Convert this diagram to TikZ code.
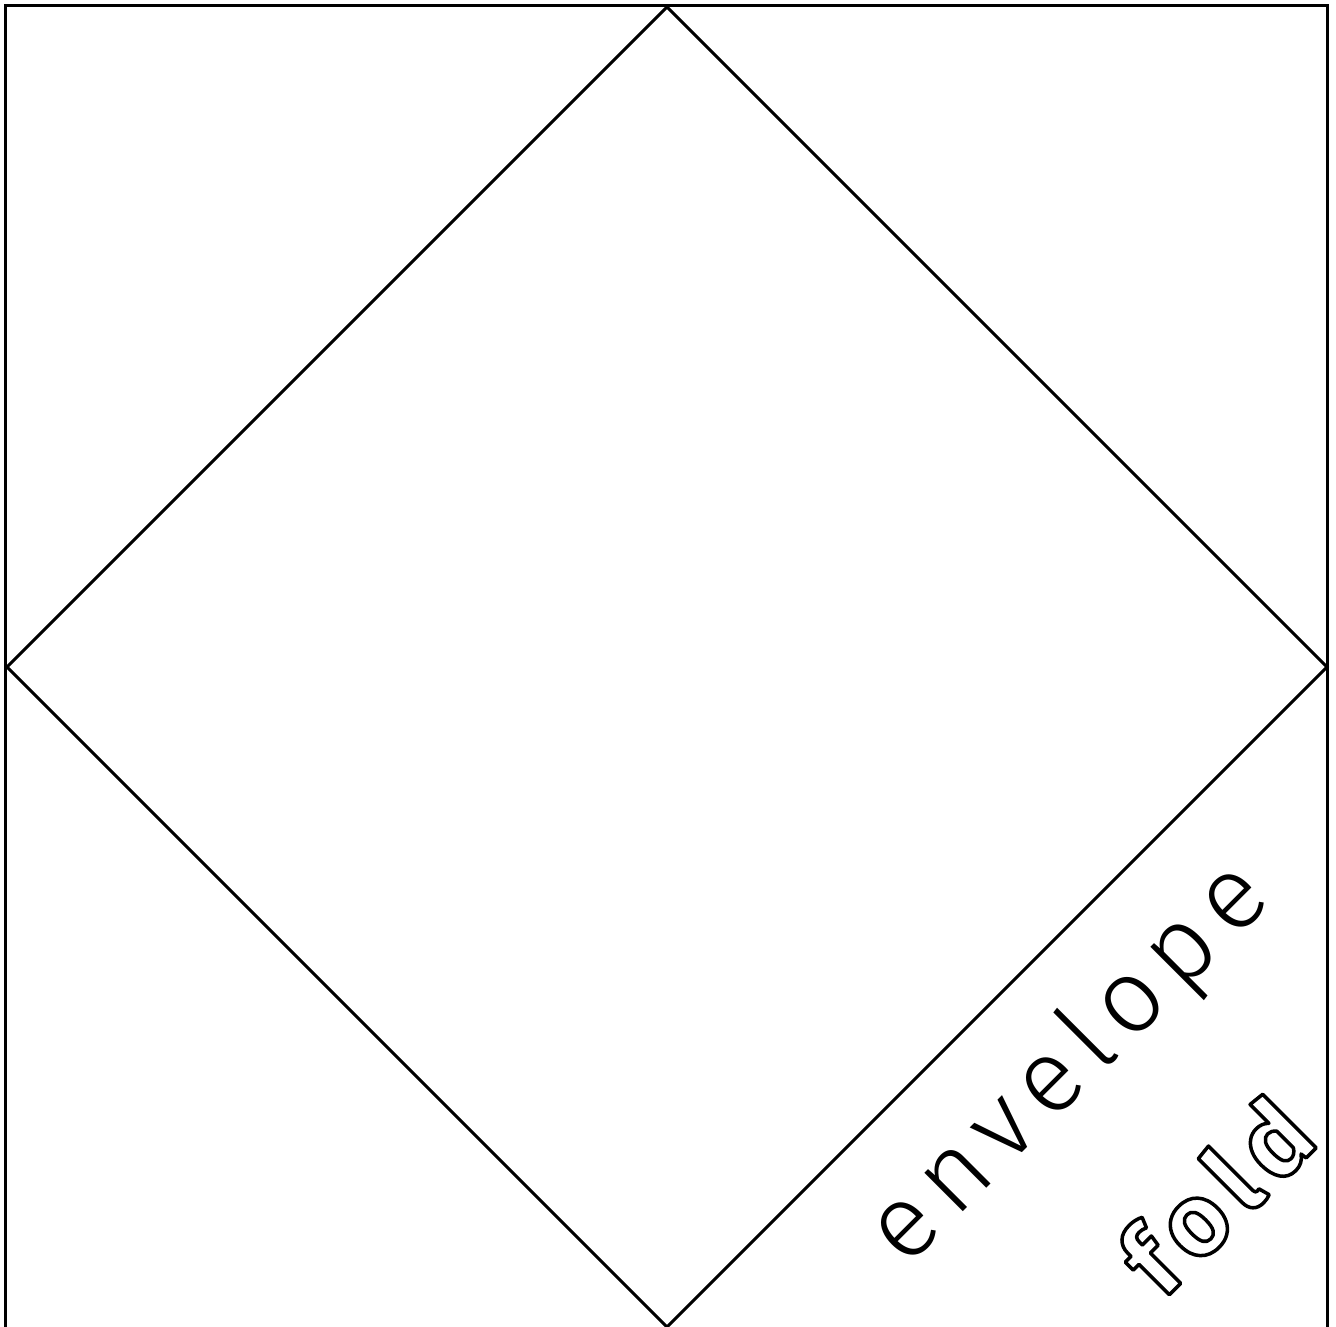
\documentclass[tikz,border=0pt]{standalone}
\usepackage{fontspec}
\newfontfamily\handfont{Fira Sans Light}[LetterSpace=13]
\newfontfamily\outfont{Fira Sans}[LetterSpace=12]
\newcommand\outlinetext[1]{\special{pdf:literal direct 1 Tr 3.5 w 1 j}#1\special{pdf:literal direct 0 Tr}}
\tikzset{
  frameline/.style={line width=3.2pt, line join=miter},
  foldline/.style={line width=3pt, line cap=round},
  handtext/.style={rotate=45, anchor=base, inner sep=0pt, font=\handfont\fontsize{104}{110}\selectfont},
  outtext/.style={rotate=45, anchor=base, inner sep=0pt, font=\outfont\bfseries\fontsize{102}{110}\selectfont}
}
\begin{document}
\begin{tikzpicture}[x=1pt,y=-1pt]
\fill[white] (0,0) rectangle (1336,1327);
\useasboundingbox (0,0) rectangle (1336,1327);
% outer square (bottom edge beyond the picture)
\coordinate (sbl) at (5.5,1327);
\coordinate (stl) at (5.5,5.5);
\coordinate (str) at (1327.5,5.5);
\coordinate (sbr) at (1327.5,1327);
\draw[frameline] (sbl) -- (stl) -- (str) -- (sbr);
% diamond
\coordinate (dt) at (667,7);
\coordinate (dl) at (7,667);
\coordinate (dr) at (1327,667);
\coordinate (db) at (667,1327);
\draw[foldline] (dt) -- (dl) -- (db) -- (dr) -- cycle;
% labels
\node[handtext] (env) at (1090,1085) {envelope};
\node[outtext] (fold) at (1242,1222) {\outlinetext{fold}};
\end{tikzpicture}
\end{document}
